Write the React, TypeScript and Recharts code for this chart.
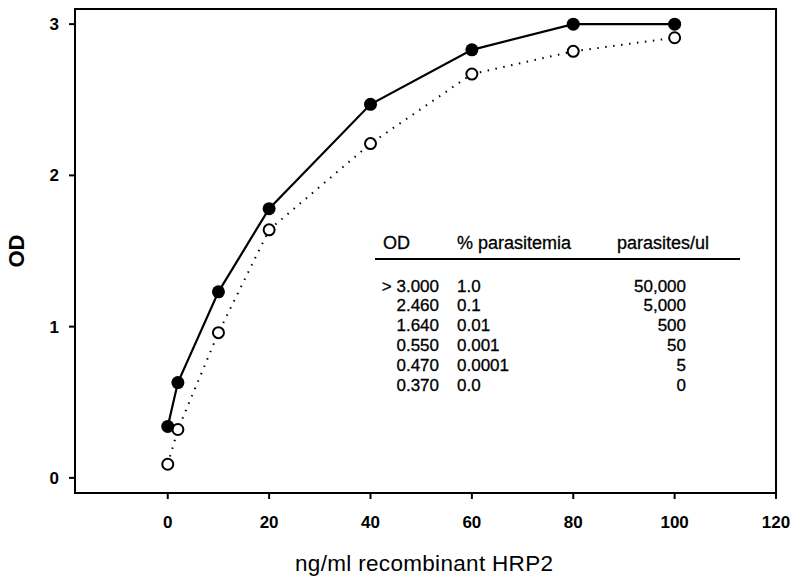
import {
  LineChart,
  Line,
  XAxis,
  YAxis,
  ReferenceArea,
} from 'recharts'

// ng/ml recombinant HRP2
const conc = [0, 2, 10, 20, 40, 60, 80, 100]
// OD, filled circles (solid line)
const odFilled = [0.34, 0.63, 1.23, 1.78, 2.47, 2.83, 3.0, 3.0]
// OD, open circles (dotted line)
const odOpen = [0.09, 0.32, 0.96, 1.64, 2.21, 2.67, 2.82, 2.91]

const xTicks = [0, 20, 40, 60, 80, 100, 120]
const yTicks = [0, 1, 2, 3]

// inset table
const tableHead = ['OD', '% parasitemia', 'parasites/ul']
const tableOd = ['> 3.000', '2.460', '1.640', '0.550', '0.470', '0.370']
const tablePct = ['1.0', '0.1', '0.01', '0.001', '0.0001', '0.0']
const tableParasites = ['50,000', '5,000', '500', '50', '5', '0']

const data = conc.map((x, i) => ({ x, a: odFilled[i], b: odOpen[i] }))

const FONT = 'Liberation Sans, Arial, Helvetica, sans-serif'
const rowY = [292, 311, 331, 351, 371, 391]

const FilledDot = (p: any) => (
  <circle key={`f-${p.index}`} cx={p.cx} cy={p.cy} r={6.5} fill="#000" />
)
const OpenDot = (p: any) => (
  <circle
    key={`o-${p.index}`}
    cx={p.cx}
    cy={p.cy}
    r={5.5}
    fill="#fff"
    stroke="#000"
    strokeWidth={2}
  />
)

const App = () => {
  return (
    <div style={{ position: 'absolute', left: 0, top: 0, width: 800, height: 584, background: '#fff' }}>
      <LineChart
        width={800}
        height={584}
        data={data}
        margin={{ top: 9, right: 24, bottom: 0, left: 0 }}
      >
        <XAxis
          dataKey="x"
          type="number"
          domain={[-18.3, 120]}
          ticks={xTicks}
          allowDataOverflow
          stroke="#000"
          strokeWidth={2}
          tickSize={6}
          tickMargin={17}
          tick={{ fill: '#000', fontSize: 17, fontWeight: 'bold', fontFamily: FONT }}
          height={91}
        />
        <YAxis
          type="number"
          domain={[-0.1, 3.1]}
          ticks={yTicks}
          allowDataOverflow
          width={75}
          stroke="#000"
          strokeWidth={2}
          tickSize={6}
          tickMargin={10}
          tick={{ fill: '#000', fontSize: 17, fontWeight: 'bold', fontFamily: FONT }}
        />
        <ReferenceArea
          x1={-18.3}
          x2={120}
          y1={-0.1}
          y2={3.1}
          fill="none"
          fillOpacity={0}
          stroke="#000"
          strokeWidth={2}
        />
        <Line
          dataKey="b"
          stroke="#000"
          strokeWidth={2}
          strokeDasharray="1.5 6.5"
          dot={OpenDot}
          isAnimationActive={false}
        />
        <Line
          dataKey="a"
          stroke="#000"
          strokeWidth={2.2}
          dot={FilledDot}
          isAnimationActive={false}
        />
      </LineChart>
      <svg
        width={800}
        height={584}
        style={{ position: 'absolute', left: 0, top: 0, pointerEvents: 'none' }}
        fontFamily={FONT}
      >
        <text x={16} y={251} fontSize={22} fontWeight="bold" textAnchor="middle" dominantBaseline="central" transform="rotate(-90 16 251)">
          OD
        </text>
        <text x={295} y={571} fontSize={22.5} textLength={258} lengthAdjust="spacing">
          ng/ml recombinant HRP2
        </text>
        <g fontSize={17} fill="#000" stroke="#000" strokeWidth={0.3}>
          <text x={383} y={249} fontSize={18}>{tableHead[0]}</text>
          <text x={457} y={249} fontSize={18}>{tableHead[1]}</text>
          <text x={617} y={249} fontSize={18}>{tableHead[2]}</text>
          <line x1={375} x2={740} y1={259} y2={259} stroke="#000" strokeWidth={2} />
          {tableOd.map((t, i) => (
            <text key={`od-${i}`} x={439} y={rowY[i]} textAnchor="end">{t}</text>
          ))}
          {tablePct.map((t, i) => (
            <text key={`pct-${i}`} x={457} y={rowY[i]}>{t}</text>
          ))}
          {tableParasites.map((t, i) => (
            <text key={`par-${i}`} x={686} y={rowY[i]} textAnchor="end">{t}</text>
          ))}
        </g>
      </svg>
    </div>
  )
}

export default App
